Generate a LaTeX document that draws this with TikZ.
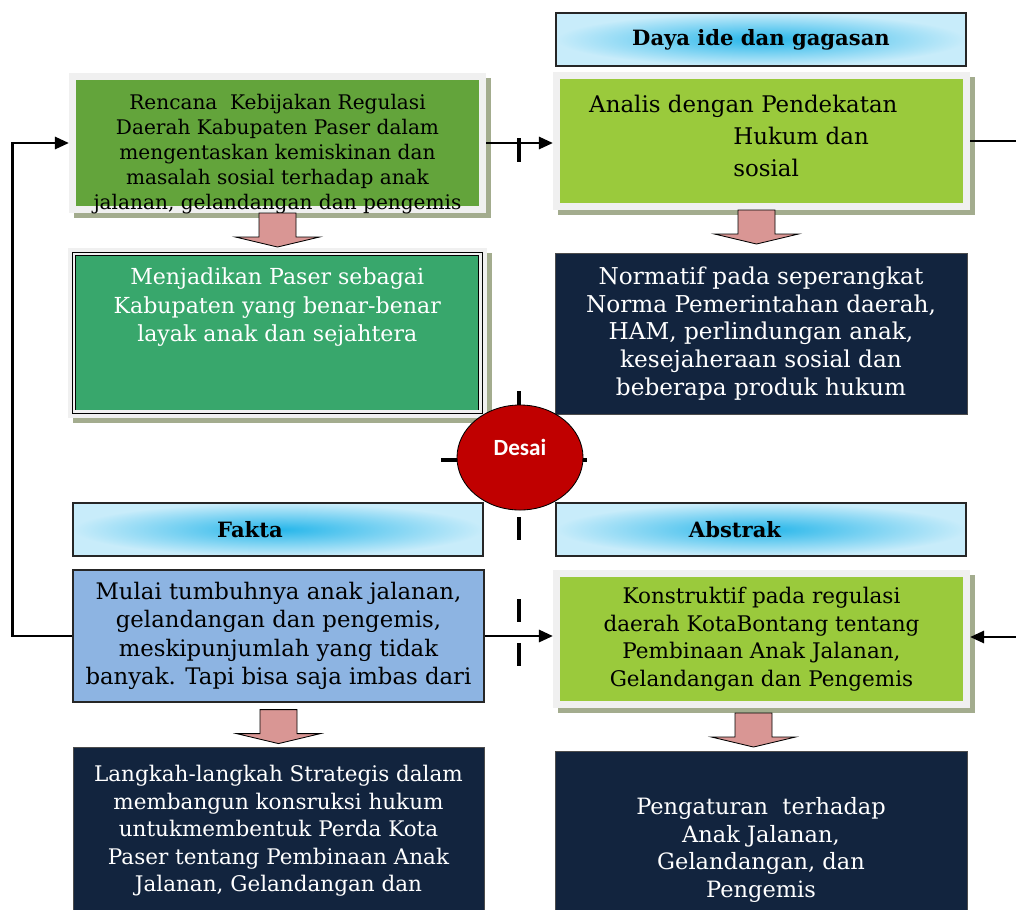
\documentclass[tikz,border=0pt]{standalone}
\usepackage{fontspec}
\setmainfont{DejaVu Serif}
\newfontfamily\desaifont{Carlito}
\usepackage{tikz}
\usetikzlibrary{positioning, calc, shadows, shapes.geometric, arrows.meta}
\definecolor{hdrmid}{RGB}{38, 182, 234}
\definecolor{hdredge}{RGB}{200, 236, 250}
\definecolor{policygreen}{RGB}{99, 164, 59}
\definecolor{limegreen}{RGB}{154, 202, 60}
\definecolor{visiongreen}{RGB}{56, 167, 108}
\definecolor{factblue}{RGB}{141, 180, 226}
\definecolor{navybox}{RGB}{18, 36, 62}
\definecolor{pinkarrow}{RGB}{217, 150, 148}
\definecolor{framegray}{RGB}{240, 240, 240}
\definecolor{shadowgreen}{RGB}{163, 172, 142}
\definecolor{desaired}{RGB}{192, 0, 0}

\begin{document}
\begin{tikzpicture}[
    x=0.025cm, y=-0.025cm,
    headbox/.style={draw=black!85, line width=1pt, inner color=hdrmid, outer color=hdredge, minimum width=10.25cm, minimum height=1.325cm, font=\fontsize{15}{17}\selectfont\bfseries},
    bodytext/.style={align=center, font=\fontsize{14.5}{20}\selectfont},
    framebox/.style={bodytext, draw=framegray, line width=0.175cm, drop shadow={shadow xshift=0.125cm, shadow yshift=-0.125cm, fill=shadowgreen, draw=shadowgreen, line width=0.175cm, opacity=1}},
    visionbox/.style={draw=black, line width=0.6pt, double=framegray, double distance=0.06cm, fill=visiongreen, drop shadow={shadow xshift=0.125cm, shadow yshift=-0.125cm, fill=shadowgreen, draw=shadowgreen, line width=0.3cm, opacity=1}, preaction={draw=framegray, line width=0.3cm}},
    darkbox/.style={bodytext, draw=black!70, line width=0.6pt, fill=navybox, text=white},
    factbox/.style={bodytext, draw=black!85, line width=0.8pt, fill=factblue},
    desaistyle/.style={ellipse, draw=black, line width=0.6pt, fill=desaired, text=white, minimum width=3.15cm, minimum height=2.625cm, inner sep=0pt, text depth=0.5cm, font=\desaifont\bfseries\fontsize{16.5}{18}\selectfont},
    blockarr/.style={draw=black, line width=0.6pt, fill=pinkarrow},
    link/.style={-{Triangle[length=0.35cm, width=0.3cm]}, line width=0.07cm},
    plainlink/.style={line width=0.07cm},
    tick/.style={line width=0.1cm}
]
    \useasboundingbox (0,0) rectangle (1016,909);

    % cross marks behind the centre
    \draw[tick] (519,138) -- (519,162) (519,391) -- (519,412) (519,517) -- (519,540)
        (519,599) -- (519,622) (519,643) -- (519,666);
    \draw[tick] (441,460) -- (462,460) (578,460) -- (587,460);

    % Headers
    \node[headbox] (daya) at (761,39.5) {Daya ide dan gagasan};
    \node[headbox] (fakta) at (278,529.5) {Fakta\hspace*{1.4cm}};
    \node[headbox] (abstrak) at (761,529.5) {Abstrak\hspace*{1.3cm}};

    % Top row
    \node[framebox, fill=policygreen, minimum width=10.25cm, minimum height=3.325cm] (rencana) at (277.5,143) {};
    \node[bodytext, font=\fontsize{14.3}{17.8}\selectfont, inner sep=0pt, below=0.525cm of rencana.north] (rencanatxt)
        {Rencana~ Kebijakan Regulasi\\ Daerah Kabupaten Paser dalam\\ mengentaskan kemiskinan dan\\ masalah sosial terhadap anak\\ jalanan, gelandangan dan pengemis};
    \node[framebox, fill=limegreen, minimum width=10.25cm, minimum height=3.275cm] (analis) at (761.5,141) {};
    \node[bodytext, align=left, font=\fontsize{16.3}{22.7}\selectfont, inner sep=0pt, anchor=north west] (analistxt) at ($(analis.north west)+(36,23)$)
        {Analis dengan Pendekatan\\ \hspace*{3.6cm}Hukum dan\\ \hspace*{3.6cm}sosial};

    % Second row
    \node[visionbox, minimum width=10.16cm, minimum height=3.94cm] (menjadi) at (277.25,332.75) {};
    \node[bodytext, text=white, font=\fontsize{15.7}{20.3}\selectfont, inner sep=0pt, below=0.35cm of menjadi.north] (menjaditxt)
        {Menjadikan Paser sebagai\\ Kabupaten yang benar-benar\\ layak anak dan sejahtera};
    \node[darkbox, font=\fontsize{16.5}{19.6}\selectfont, minimum width=10.3cm, minimum height=4.025cm] (normatif) at (761,333.5)
        {Normatif pada seperangkat\\ Norma Pemerintahan daerah,\\ HAM, perlindungan anak,\\ kesejaheraan sosial dan\\ beberapa produk hukum};

    % Third row
    \node[factbox, font=\fontsize{16.2}{20.3}\selectfont, minimum width=10.275cm, minimum height=3.3cm] (mulai) at (278.5,636)
        {Mulai tumbuhnya anak jalanan,\\ gelandangan dan pengemis,\\ meskipunjumlah yang tidak\\ banyak. Tapi bisa saja imbas dari};
    \node[framebox, fill=limegreen, font=\fontsize{15.3}{19.6}\selectfont, minimum width=10.25cm, minimum height=3.275cm] (konstruktif) at (761.5,639)
        {Konstruktif pada regulasi\\ daerah KotaBontang tentang\\ Pembinaan Anak Jalanan,\\ Gelandangan dan Pengemis};

    % Bottom row
    \node[darkbox, font=\fontsize{15.3}{19.6}\selectfont, minimum width=10.275cm, minimum height=4.2cm] (langkah) at (278.5,831)
        {Langkah-langkah Strategis dalam\\ membangun konsruksi hukum\\ untukmembentuk Perda Kota\\ Paser tentang Pembinaan Anak\\ Jalanan, Gelandangan dan};
    \node[darkbox, font=\fontsize{16}{19.6}\selectfont, minimum width=10.3cm, minimum height=4.95cm] (pengaturan) at (761,850)
        {Pengaturan~ terhadap\\ Anak Jalanan,\\ Gelandangan, dan\\ Pengemis};

    % Centre
    \node[desaistyle] (desai) at (520,457.5) {Desai};

    % Block arrows
    \draw[blockarr] ($(rencana.south)+(-18.5,0)$) -- ++(0,24) -- ++(-23.5,0) -- ++(42,10) -- ++(42,-10) -- ++(-23.5,0) -- ++(0,-24) -- cycle;
    \draw[blockarr] ($(analis.south)+(-23.5,0)$) -- ++(0,24) -- ++(-23.5,0) -- ++(42,10) -- ++(42,-10) -- ++(-23.5,0) -- ++(0,-24) -- cycle;
    \draw[blockarr] ($(mulai.south)+(-18.5,7)$) -- ++(0,24) -- ++(-23.5,0) -- ++(42,10) -- ++(42,-10) -- ++(-23.5,0) -- ++(0,-24) -- cycle;
    \draw[blockarr] ($(konstruktif.south)+(-26.5,5)$) -- ++(0,24) -- ++(-23.5,0) -- ++(42,10) -- ++(42,-10) -- ++(-23.5,0) -- ++(0,-24) -- cycle;

    % Connections
    \draw[link] (rencana.east) -- (rencana.east -| analis.west);
    \draw[link] (mulai.east) -- (mulai.east -| konstruktif.west);
    \draw[link] (mulai.west) -- ++(-60,0) |- (rencana.west);
    \coordinate (outtop) at (1016,141);
    \coordinate (inbottom) at (1016,637);
    \draw[plainlink] (analis.east) -- (analis.east -| outtop);
    \draw[link] (inbottom) -- (inbottom -| konstruktif.east);

\end{tikzpicture}
\end{document}
